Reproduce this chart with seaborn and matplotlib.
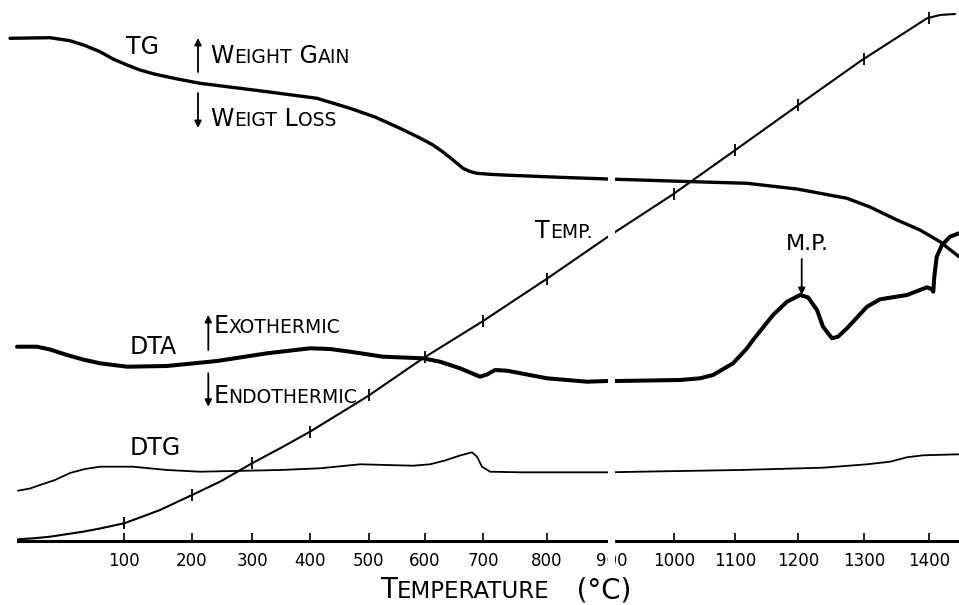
import numpy as np
import matplotlib
matplotlib.use("Agg")
import matplotlib.pyplot as plt
import seaborn as sns

# ---------------- data (chart position units along the recorder paper) -------------
tick_labels = [100, 200, 300, 400, 500, 600, 700, 800, 900, 1000, 1100, 1200, 1300, 1400]
tick_pos = [124, 192, 252, 310, 369, 425, 483, 547, 612, 674, 735, 798, 864, 929]

tg_x = [10, 50, 70, 85, 100, 113, 127, 140, 155, 175, 200, 267, 317, 350, 375, 400, 420,
        433, 443, 453, 463, 470, 477, 490, 503, 560, 608, 693, 747, 797, 847, 870, 897,
        920, 940, 959]
tg_y = [502.7, 503.3, 500.3, 495.5, 489.3, 482.0, 476.0, 471.0, 466.8, 462.5, 457.7,
        449.3, 442.7, 432.7, 424.0, 412.7, 403.0, 396.0, 389.0, 381.0, 372.7, 369.5,
        367.7, 366.7, 366.0, 363.7, 362.0, 359.3, 357.7, 352.0, 342.7, 334.0, 321.0,
        311.0, 299.3, 284.3]

temp_x = [18, 35, 50, 83, 100, 124, 140, 160, 192, 220, 252, 283, 310, 367, 423, 482,
          545, 608, 672, 733, 796, 861, 927, 940, 955]
temp_y = [1.7, 2.8, 4.3, 9.3, 12.5, 17.7, 23.5, 31.0, 46.0, 59.3, 77.7, 94.3, 109.3,
          144.3, 182.7, 219.3, 261.0, 304.3, 346.0, 389.3, 434.3, 480.3, 522.7, 526.0,
          527.0]

dta_x = [17, 37, 50, 67, 83, 100, 127, 167, 217, 267, 310, 330, 350, 383, 423, 440, 460,
         480, 487, 495, 507, 547, 587, 608, 617, 680, 700, 713, 733, 747, 753, 773, 787,
         800, 808, 817, 823, 832, 838, 847, 867, 880, 907, 927, 932, 933.3, 934.3, 936.7,
         942, 950, 959]
dta_y = [194.3, 194.3, 191.5, 186.0, 181.5, 177.7, 174.3, 175.0, 180.0, 187.7, 192.7,
         192.0, 189.3, 184.3, 182.7, 179.3, 172.7, 164.3, 166.5, 171.0, 170.3, 162.7,
         159.3, 160.0, 160.0, 161.0, 162.7, 166.0, 177.7, 192.7, 201.0, 226.0, 239.3,
         246.0, 243.7, 231.0, 214.3, 202.7, 204.3, 212.7, 234.3, 241.7, 246.0, 253.7,
         251.7, 249.3, 264.3, 284.3, 296.0, 304.3, 307.7]

dtg_x = [18, 30, 40, 55, 70, 85, 100, 133, 167, 200, 233, 280, 320, 360, 413, 430, 445,
         460, 472, 477, 482, 490, 520, 607, 640, 740, 823, 867, 890, 907, 923, 959]
dtg_y = [50.3, 52.5, 56.0, 61.0, 68.0, 72.0, 74.3, 74.3, 71.0, 69.3, 70.0, 71.0, 72.7,
         76.7, 75.3, 76.7, 80.5, 85.5, 88.7, 84.3, 74.3, 69.3, 68.7, 68.7, 69.3, 71.0,
         73.3, 76.7, 79.3, 83.7, 85.7, 86.7]

# ---------------- figure ----------------
sns.set_theme(style="white")
plt.rcParams["font.family"] = ["DejaVu Sans"]

fig = plt.figure(figsize=(9.59, 6.05), dpi=100)
fig.patch.set_facecolor("white")
ax = fig.add_axes([0, 64 / 605, 1, 541 / 605])
ax.set_facecolor("white")

kw = dict(ax=ax, color="black", sort=False, estimator=None, legend=False)
sns.lineplot(x=tg_x, y=tg_y, lw=2.4, **kw)
sns.lineplot(x=temp_x, y=temp_y, lw=1.5, **kw)
sns.lineplot(x=dta_x, y=dta_y, lw=2.9, **kw)
sns.lineplot(x=dtg_x, y=dtg_y, lw=1.3, **kw)

# temperature marks on the TEMP curve
ax.plot(tick_pos, np.interp(tick_pos, temp_x, temp_y), ls="none", marker="|",
        ms=8, mew=1.3, color="black")

ax.set_xlim(0, 959)
ax.set_ylim(0, 541)
ax.set_xticks(tick_pos)
ax.set_xticklabels([str(t) for t in tick_labels])
ax.set_yticks([])
ax.set_xlabel("")
ax.set_ylabel("")
ax.tick_params(axis="x", direction="in", length=6, width=1.2, pad=8,
               labelsize=12, colors="black", bottom=True)
for s in ["left", "right", "top"]:
    ax.spines[s].set_visible(False)
ax.spines["bottom"].set_bounds(18, 959)
ax.spines["bottom"].set_linewidth(2.2)
ax.spines["bottom"].set_color("black")


def smallcaps(x, y, parts, big=17, small=13.5):
    sizes = [big if b else small for _, b in parts]
    t = ax.text(x, y, parts[0][0], fontsize=sizes[0], va="baseline", ha="left",
                color="black", clip_on=False)
    prev = sizes[0]
    for (s, _), sz in zip(parts[1:], sizes[1:]):
        t = ax.annotate(s, xy=(1, 0), xycoords=t, xytext=(0, 0.236 * (prev - sz)),
                        textcoords="offset points", fontsize=sz, va="bottom",
                        ha="left", color="black", annotation_clip=False)
        prev = sz


def arrow(x, y0, y1):
    ax.annotate("", xy=(x, y1), xytext=(x, y0),
                arrowprops=dict(arrowstyle="-|>", color="black", lw=1.3,
                                mutation_scale=10, shrinkA=0, shrinkB=0))


ax.text(143, 494.3, "TG", ha="center", va="center", fontsize=17, color="black")
ax.text(153, 194.3, "DTA", ha="center", va="center", fontsize=17, color="black")
ax.text(155, 93, "DTG", ha="center", va="center", fontsize=17, color="black")
ax.text(807.5, 297, "M.P.", ha="center", va="center", fontsize=16, color="black")

smallcaps(210.7, 477.7, [("W", 1), ("EIGHT", 0), (" G", 1), ("AIN", 0)])
smallcaps(210.7, 415.0, [("W", 1), ("EIGT", 0), (" L", 1), ("OSS", 0)])
smallcaps(213.3, 207.7, [("E", 1), ("XOTHERMIC", 0)])
smallcaps(213.3, 137.7, [("E", 1), ("NDOTHERMIC", 0)])
smallcaps(535, 303, [("T", 1), ("EMP.", 0)])
smallcaps(380, -57, [("T", 1), ("EMPERATURE", 0), ("   (°C)", 1)], big=20, small=16.5)

arrow(198, 469, 503)
arrow(198, 448, 413)
arrow(208.3, 191, 226)
arrow(208.3, 167.7, 134.3)
arrow(801.7, 282, 246)

# break in the recorder chart
ax.axvspan(608, 615, ymin=-0.06, ymax=1.0, color="white", lw=0, zorder=10,
           clip_on=False)

fig.savefig("out.png", dpi=100, facecolor="white")
